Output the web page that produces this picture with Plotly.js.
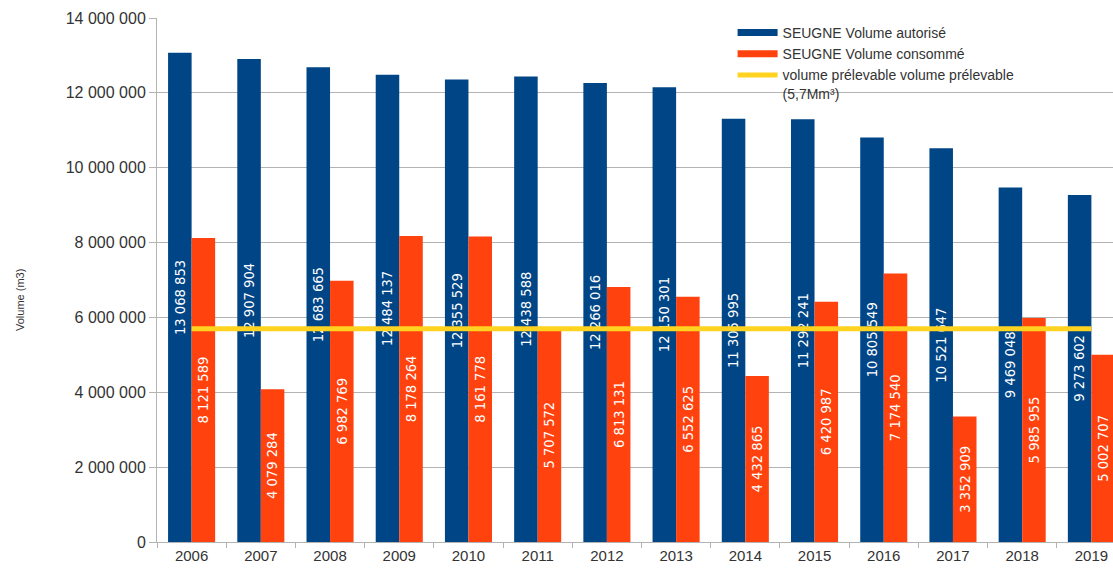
<!DOCTYPE html>
<html>
<head>
<meta charset="utf-8">
<script src="https://cdn.plot.ly/plotly-3.0.1.min.js"></script>
<style>
html,body{margin:0;padding:0;overflow:hidden;background:#fff;width:1113px;height:568px;}
#chart{width:1130px;height:568px;}
</style>
</head>
<body>
<div id="chart"></div>
<script>
const years = ['2006','2007','2008','2009','2010','2011','2012','2013','2014','2015','2016','2017','2018','2019'];
const volumeAutorise = [13068853, 12907904, 12683665, 12484137, 12355529, 12438588, 12266016, 12150301, 11305995, 11292241, 10805549, 10521647, 9469048, 9273602];
const volumeConsomme = [8121589, 4079284, 6982769, 8178264, 8161778, 5707572, 6813131, 6552625, 4432865, 6420987, 7174540, 3352909, 5985955, 5002707];
const volumePrelevable = [5700000, 5700000, 5700000, 5700000, 5700000, 5700000, 5700000, 5700000, 5700000, 5700000, 5700000, 5700000, 5700000, 5700000];
const yTicks = [0, 2000000, 4000000, 6000000, 8000000, 10000000, 12000000, 14000000];

const names = ['SEUGNE Volume autorisé', 'SEUGNE Volume consommé', 'volume prélevable volume prélevable<br>(5,7Mm³)'];
const yTitle = 'Volume (m3)';
const colors = ['#004586', '#ff420e', '#ffd320'];

const labelFont = {family: 'DejaVu Sans Condensed, DejaVu Sans', size: 15, color: '#ffffff'};

const traces = [
  {
    type: 'bar', x: years, y: volumeAutorise, name: names[0], showlegend: false,
    marker: {color: colors[0]}, texttemplate: '%{y:,d}', textposition: 'inside',
    insidetextanchor: 'middle', textangle: -90, textfont: labelFont, hoverinfo: 'none'
  },
  {
    type: 'bar', x: years, y: volumeConsomme, name: names[1], showlegend: false,
    marker: {color: colors[1]}, texttemplate: '%{y:,d}', textposition: 'inside',
    insidetextanchor: 'middle', textangle: -90, textfont: labelFont, hoverinfo: 'none'
  },
  {type: 'scatter', mode: 'lines', x: [null], y: [null], name: names[0], line: {color: colors[0], width: 7}, hoverinfo: 'none'},
  {type: 'scatter', mode: 'lines', x: [null], y: [null], name: names[1], line: {color: colors[1], width: 7}, hoverinfo: 'none'},
  {
    type: 'scatter', mode: 'lines', x: years, y: volumePrelevable, name: names[2],
    line: {color: colors[2], width: 5}, hoverinfo: 'none'
  }
];

const layout = {
  width: 1130, height: 568,
  margin: {l: 157, r: 4, t: 18, b: 26, pad: 0},
  paper_bgcolor: '#ffffff', plot_bgcolor: '#ffffff',
  separators: ', ',
  barmode: 'group', bargap: 0.32, bargroupgap: 0,
  font: {family: 'Liberation Sans, Arial, sans-serif', size: 14, color: '#333333'},
  showlegend: true,
  legend: {
    x: 0.594, y: 1.002, xanchor: 'left', yanchor: 'top', valign: 'top',
    bgcolor: 'rgba(0,0,0,0)', font: {size: 14, color: '#333333', family: 'Liberation Sans, Arial, sans-serif'},
    tracegroupgap: 0, itemwidth: 40, traceorder: 'normal'
  },
  xaxis: {
    type: 'category', range: [-0.5, 13.5], showgrid: false,
    ticks: 'outside', tickson: 'boundaries', ticklen: 5, tickcolor: '#b3b3b3',
    showline: true, linecolor: '#b3b3b3', linewidth: 1,
    tickfont: {size: 15, color: '#333333'}, fixedrange: true
  },
  yaxis: {
    range: [0, 14000000], tickvals: yTicks, tickformat: ',d',
    showgrid: true, gridcolor: '#b3b3b3', gridwidth: 1,
    ticks: 'outside', ticklen: 7, tickcolor: '#b3b3b3',
    showline: true, linecolor: '#b3b3b3', linewidth: 1, zeroline: false,
    tickfont: {size: 16, color: '#333333'},
    fixedrange: true
  },
  annotations: [{
    text: yTitle, xref: 'paper', yref: 'paper', x: (20 - 157) / 969, y: (542 - 300) / 524,
    xanchor: 'center', yanchor: 'middle', textangle: -90, showarrow: false,
    font: {size: 11, color: '#333333', family: 'Liberation Sans, Arial, sans-serif'}
  }]
};

Plotly.newPlot('chart', traces, layout, {displayModeBar: false, staticPlot: true});
</script>
</body>
</html>
